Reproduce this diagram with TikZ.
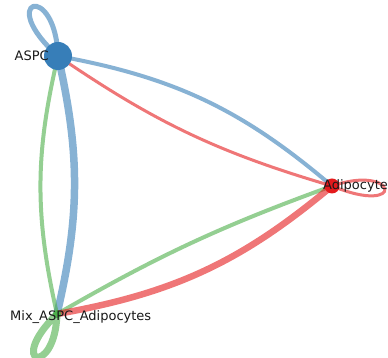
\documentclass[tikz,border=0pt]{standalone}
\usepackage{fontspec}
\setmainfont{DejaVu Sans}
\definecolor{cblue}{HTML}{377EB8}
\definecolor{cred}{HTML}{E41A1C}
\definecolor{cgreen}{HTML}{4DAF4A}
\tikzset{
  edge/.style={draw opacity=0.6, line cap=round},
  vert/.style={circle, inner sep=0pt, draw=none},
  lbl/.style={font=\fontsize{13}{15}\selectfont, inner sep=0pt, text=black!90}
}
\begin{document}
\begin{tikzpicture}[x=1pt,y=1pt]
\useasboundingbox (0,0) rectangle (388,358);
\coordinate (aspc) at (58,302);
\coordinate (adip) at (332,172);
\coordinate (mix) at (57,44);
% self loops
\draw[edge, cblue, line width=5] (aspc) .. controls (-5,358) and (55,378) .. (aspc);
\draw[edge, cred, line width=3] (adip) .. controls (398,195) and (407,141) .. (adip);
\draw[edge, cgreen, line width=7] (mix) .. controls (5,-7) and (55,-20) .. (mix);
% edges
\draw[edge, cblue, line width=4] (aspc) to[bend left=15] (adip);
\draw[edge, cred, line width=3] (aspc) to[bend right=9] (adip);
\draw[edge, cblue, line width=7.5] (aspc) to[bend left=13] (mix);
\draw[edge, cgreen, line width=4] (aspc) to[bend right=13] (mix);
\draw[edge, cgreen, line width=4] (mix) to[bend left=5] (adip);
\draw[edge, cred, line width=6.5] (mix) to[bend right=15] (adip);
% vertices
\node[vert, fill=cblue, minimum size=28] (naspc) at (aspc) {};
\node[vert, fill=cred, minimum size=15] (nadip) at (adip) {};
\node[vert, fill=cgreen, minimum size=8] (nmix) at (mix) {};
% labels
\node[lbl, anchor=east] (taspc) at (49,302) {ASPC};
\node[lbl, anchor=west] (tadip) at (323,172) {Adipocyte};
\node[lbl, anchor=west] (tmix) at (10,41) {Mix\_ASPC\_Adipocytes};
\end{tikzpicture}
\end{document}
